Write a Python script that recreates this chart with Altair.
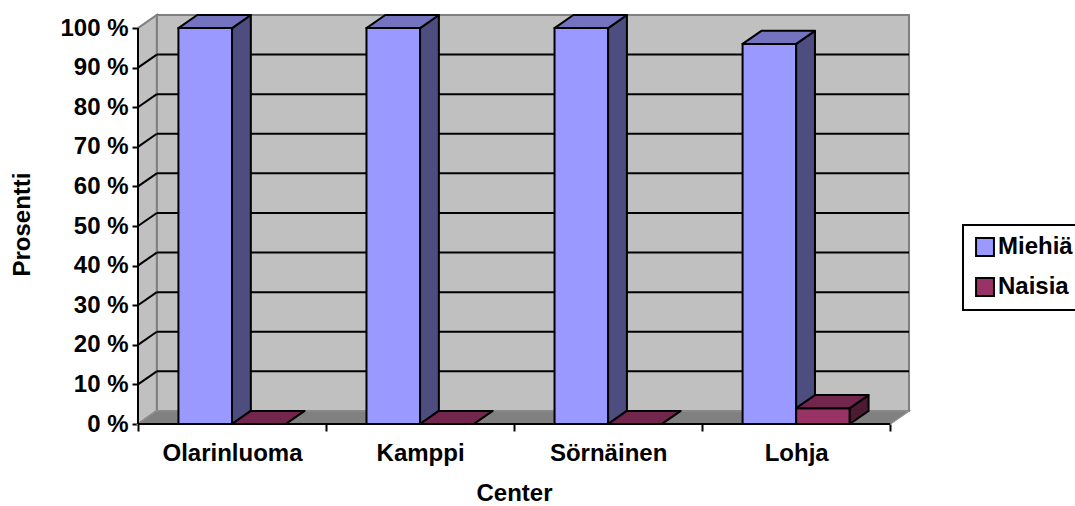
import json
import altair as alt
import pandas as pd

# Share of men and women per center (percent)
categories = ["Olarinluoma", "Kamppi", "Sörnäinen", "Lohja"]
series_names = ["Miehiä", "Naisia"]
miehia = [100, 100, 100, 96]
naisia = [0, 0, 0, 4]
y_ticks = [0, 10, 20, 30, 40, 50, 60, 70, 80, 90, 100]

# Face colours for the pseudo-3D columns
PALETTE = {
    "Miehiä": {"front": "#9999FF", "top": "#7373BF", "side": "#4D4D80"},
    "Naisia": {"front": "#993366", "top": "#73264D", "side": "#4D1A33"},
}

# Projection of the depth axis, in data units
BAR_W = 0.285
DX = 0.1
DY = 3.3
N = len(categories)
FONT = "Liberation Sans"

values = {"Miehiä": miehia, "Naisia": naisia}

x_scale = alt.Scale(domain=[0, N + DX], nice=False, zero=False)
y_scale = alt.Scale(domain=[0, 100 + DY], nice=False, zero=False)


def X(field="x", **kw):
    kw.setdefault("axis", None)
    return alt.X(field, type="quantitative", scale=x_scale, **kw)


def Y(field="y", **kw):
    kw.setdefault("axis", None)
    return alt.Y(field, type="quantitative", scale=y_scale, **kw)


# ---- walls, floor and gridlines ----
back_wall = alt.Chart(pd.DataFrame([{"x": DX, "x2": N + DX, "y": DY, "y2": 100 + DY}])).mark_rect(
    fill="#C0C0C0", stroke="#808080", strokeWidth=2
).encode(x=X(), x2="x2", y=Y(), y2="y2")

left_wall = alt.Chart(pd.DataFrame([
    {"x": 0, "y": 0, "y2": 100},
    {"x": DX, "y": DY, "y2": 100 + DY},
])).mark_area(fill="#C0C0C0", stroke="#808080", strokeWidth=2, orient="vertical").encode(
    x=X(), y=Y(), y2="y2"
)

floor = alt.Chart(pd.DataFrame([
    {"y": 0, "x": 0, "x2": N},
    {"y": DY, "x": DX, "x2": N + DX},
])).mark_area(fill="#808080", stroke="#8C8C8C", strokeWidth=1.5, orient="horizontal").encode(
    y=Y(), x=X(), x2="x2"
)

grid_levels = [v for v in y_ticks if 0 < v < 100]
grid_back = alt.Chart(pd.DataFrame(
    [{"x": DX, "x2": N + DX, "y": v + DY, "y2": v + DY} for v in grid_levels]
)).mark_rule(color="black", strokeWidth=2).encode(x=X(), x2="x2", y=Y(), y2="y2")

grid_side = alt.Chart(pd.DataFrame(
    [{"x": 0, "x2": DX, "y": v, "y2": v + DY} for v in grid_levels]
)).mark_rule(color="black", strokeWidth=2).encode(x=X(), x2="x2", y=Y(), y2="y2")

# ---- axes ----
label_expr = json.dumps(categories, ensure_ascii=False) + "[floor(datum.value)]"

x_labels = alt.Chart(pd.DataFrame([{"x": i + 0.5, "y": 0} for i in range(N)])).mark_point(
    opacity=0
).encode(
    x=X(axis=alt.Axis(
        orient="bottom", values=[i + 0.5 for i in range(N)], labelExpr=label_expr, ticks=False,
        domain=False, grid=False, labelFont=FONT, labelFontSize=24, labelFontWeight="bold",
        labelColor="black", labelPadding=17, title=None, labelFlush=False, labelOverlap=False,
    )),
    y=Y(),
)

x_ticks = alt.Chart(pd.DataFrame([{"x": 0, "x2": N, "y": 0, "y2": 0}])).mark_rule(
    color="black", strokeWidth=2
).encode(
    x=X(axis=alt.Axis(
        orient="bottom", values=list(range(N + 1)), labels=False, tickSize=7, tickColor="black",
        tickWidth=2, domain=False, grid=False, title="Center", titleFont=FONT, titleFontSize=24,
        titleFontWeight="bold", titleColor="black", titleX=376, titleY=69,
        titleBaseline="middle", titleAnchor="start", titleAlign="center",
    )),
    x2="x2", y=Y(), y2="y2",
)

y_axis = alt.Chart(pd.DataFrame([{"x": 0, "x2": 0, "y": 0, "y2": 100}])).mark_rule(
    color="black", strokeWidth=2
).encode(
    x=X(), x2="x2",
    y=Y(axis=alt.Axis(
        orient="left", values=y_ticks, labelExpr="datum.value + ' %'", tickSize=6,
        tickColor="black", tickWidth=2, domain=False, grid=False, labelFont=FONT,
        labelFontSize=24, labelFontWeight="bold", labelColor="black", labelPadding=4,
        title="Prosentti", titleFont=FONT, titleFontSize=24, titleFontWeight="bold",
        titleColor="black", titleAngle=-90, titleX=-116, titleY=209,
        titleAlign="center", titleBaseline="middle",
    )),
    y2="y2",
)

# ---- columns ----
color_enc = alt.Color(
    "series:N",
    scale=alt.Scale(domain=series_names, range=[PALETTE[s]["front"] for s in series_names]),
    legend=alt.Legend(
        title=None, orient="none", legendX=825, legendY=210, direction="vertical",
        labelFont=FONT, labelFontSize=24, labelFontWeight="bold", labelColor="black",
        symbolType="square", symbolSize=320, symbolStrokeColor="black", symbolStrokeWidth=2,
        symbolOpacity=1, strokeColor="black", padding=10, rowPadding=14, labelOffset=1,
        fillColor="white",
    ),
)


def column_layers(si, s):
    fronts, sides, tops = [], [], []
    for i, v in enumerate(values[s]):
        x0 = i + 0.5 - BAR_W + si * BAR_W
        x1 = x0 + BAR_W
        fronts.append({"series": s, "x": x0, "x2": x1, "y": 0, "y2": v})
        sides += [
            {"id": i, "x": x1, "y": v, "y2": 0},
            {"id": i, "x": x1 + DX, "y": v + DY, "y2": DY},
        ]
        tops += [
            {"id": i, "y": v, "x": x0, "x2": x1},
            {"id": i, "y": v + DY, "x": x0 + DX, "x2": x1 + DX},
        ]
    front = alt.Chart(pd.DataFrame(fronts)).mark_rect(stroke="black", strokeWidth=2).encode(
        x=X(), x2="x2", y=Y(), y2="y2", color=color_enc
    )
    side = alt.Chart(pd.DataFrame(sides)).mark_area(
        fill=PALETTE[s]["side"], stroke="black", strokeWidth=2, orient="vertical",
        strokeJoin="round",
    ).encode(x=X(), y=Y(), y2="y2", detail="id:N")
    top = alt.Chart(pd.DataFrame(tops)).mark_area(
        fill=PALETTE[s]["top"], stroke="black", strokeWidth=2, orient="horizontal",
        strokeJoin="round",
    ).encode(y=Y(), x=X(), x2="x2", detail="id:N")
    return [front, side, top]


layers = [back_wall, left_wall, floor, grid_back, grid_side]
for si, s in enumerate(series_names):
    layers += column_layers(si, s)
layers += [x_ticks, y_axis, x_labels]

chart = alt.layer(*layers).resolve_axis(x="independent", y="independent").properties(
    width=771,
    height=409,
    autosize=alt.AutoSizeParams(type="none"),
    padding={"left": 138, "top": 15, "right": 166, "bottom": 82},
    background="white",
).configure_view(stroke=None).configure_legend(strokeWidth=2)

chart.save("out.html", embed_options={"renderer": "svg", "actions": False})
